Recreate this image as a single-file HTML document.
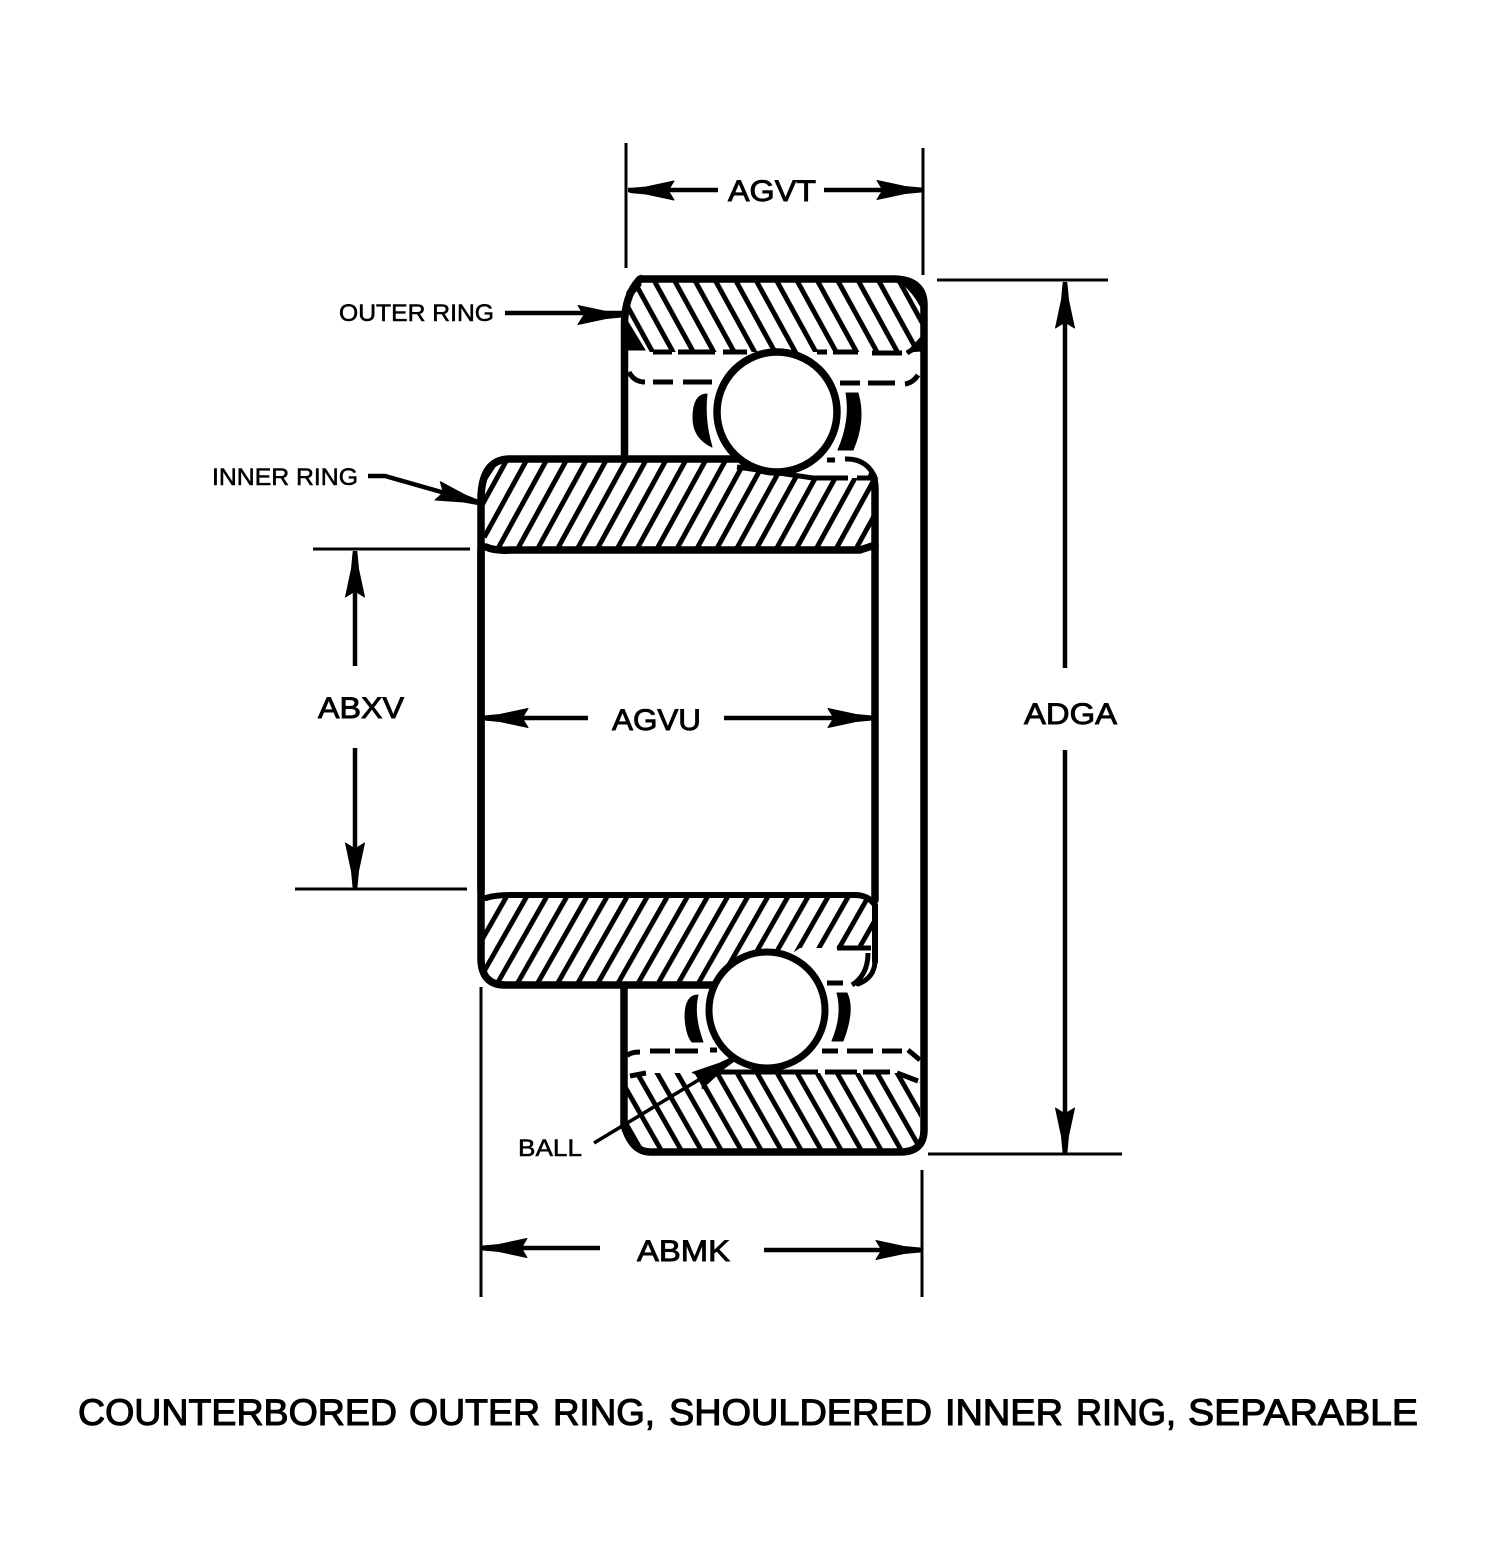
<!DOCTYPE html>
<html><head><meta charset="utf-8"><style>
html,body{margin:0;padding:0;background:#fff}
svg{display:block}
text{font-family:"Liberation Sans",sans-serif;fill:#000;stroke:#000}
.b{font-size:30px;stroke-width:.9px}
.s{font-size:24px;stroke-width:.55px}
.t{font-size:37px;stroke-width:1.1px}
.o{fill:none;stroke:#000;stroke-width:7.5;stroke-linejoin:round;stroke-linecap:round}
.d{fill:none;stroke:#000;stroke-width:3}
.l{fill:none;stroke:#000;stroke-width:4.5}
</style></head><body>
<svg width="1495" height="1543" viewBox="0 0 1495 1543" xmlns="http://www.w3.org/2000/svg">
<defs>
<pattern id="pb" width="20.4" height="200" patternUnits="userSpaceOnUse" patternTransform="translate(7.5 0) skewX(28.8)"><rect width="20.4" height="200" fill="#fff"/><rect x="0" width="5.600" height="200" fill="#000"/></pattern>
<pattern id="pf" width="19.9" height="200" patternUnits="userSpaceOnUse" patternTransform="translate(0.7 0) skewX(-28.8)"><rect width="19.9" height="200" fill="#fff"/><rect x="0" width="5.600" height="200" fill="#000"/></pattern>
<pattern id="pf2" width="20.1" height="200" patternUnits="userSpaceOnUse" patternTransform="translate(10.2 0) skewX(-29.7)"><rect width="20.1" height="200" fill="#fff"/><rect x="0" width="5.600" height="200" fill="#000"/></pattern>
<pattern id="pb2" width="20" height="200" patternUnits="userSpaceOnUse" patternTransform="translate(2.3 0) skewX(29.7)"><rect width="20" height="200" fill="#fff"/><rect x="0" width="5.600" height="200" fill="#000"/></pattern>
<path id="ah" d="M0 -2L-16 -3.5L-44 -9.5L-40 -3L-38 0L-40 3L-44 9.5L-16 3.5L0 2Z" fill="#000" stroke="#000" stroke-width="1" stroke-linejoin="round"/>
</defs>
<rect width="1495" height="1543" fill="#fff"/>

<!-- hatched bodies -->
<path d="M640 278H900Q924 280 924 300V335L906 352H645L627 320V295Z" fill="url(#pb)"/>
<path d="M484 475Q486 460 505 459H740L770 475L815 478H862Q875 480 875 490V528L860 549H498L482 535Z" fill="url(#pf)"/>
<path d="M484 915Q486 896 505 896H855Q872 898 873 915V930L862 948H800L745 985H500L482 970Z" fill="url(#pf2)"/>
<path d="M627 1085L640 1073H900L920 1082V1130Q922 1150 905 1152H645Q628 1150 624 1130Z" fill="url(#pb2)"/>

<!-- black corners -->
<path d="M900 279Q924 280 926 300V318Q918 295 900 281Z" fill="#000" stroke="#000" stroke-width="2"/>
<path d="M640 278L628 292L627 300L640 285Z" fill="#000" stroke="#000" stroke-width="3"/>
<path d="M628 322L628 350L645 350Z" fill="#000" stroke="#000" stroke-width="1"/>
<path d="M922 336L921 351L907 352Z" fill="#000" stroke="#000" stroke-width="1"/>
<path d="M486 470Q490 462 500 460L487 480Z" fill="#000"/>

<!-- outer ring outline -->
<path class="o" d="M624.500 458V325Q624.500 295 640 279H895Q924 280 924 305V1130Q924 1152 900 1152H650Q632 1152 624 1125V988"/>
<!-- inner ring outlines -->
<path class="o" d="M481 890V500Q481 459 510 459H745"/>
<path class="o" d="M486 547Q495 551 510 550H860L875 545"/>
<path class="o" d="M875 900V490Q875 480 872 475"/>
<path class="o" d="M481 550V960Q482 985 505 985H715"/>
<path class="o" style="stroke-width:6" d="M486 898Q495 895 510 895H855Q868 895 875 905V962"/>
<path class="o" d="M875 962Q874 978 858 984" style="stroke-width:5"/>

<!-- races -->
<g fill="none" stroke="#000" stroke-width="5">
<path d="M653 352H672M678 352H715M723 352H747M817 352H827M833 352H858M872 353H902M907 353L920 345"/>
<path d="M629 372Q634 382 645 382M653 382H673M683 382H712M840 383H860M868 383H895M905 384Q913 383 918 375"/>
<path d="M827 460H835M845 459Q868 458 876 480M813 478H848M857 478H870"/>
<path d="M627 1056Q630 1052 640 1052M650 1051H670M675 1051H698M710 1050H717M822 1051H838M847 1051H873M882 1051H902M908 1050L920 1060"/>
<path d="M630 1076L646 1073M717 1072H800M800 1072H818M825 1072H857M863 1072H890M897 1073L918 1081"/>
<path d="M837 948H871M827 983H843M868 953Q868 975 852 985"/>
<path d="M737 467L813 478"/>
</g>

<!-- cage -->
<g fill="#000" stroke="#000" stroke-width="1" stroke-linejoin="round">
<path d="M707 394Q693 394 693 418Q693 438 712 447Q704 420 707 394Z"/>
<path d="M846 393H858Q866 420 853 450H838Q851 420 846 393Z"/>
<path d="M698 995Q685 995 685 1017Q686 1035 692 1042H703Q693 1015 698 995Z"/>
<path d="M837 993H847Q855 1010 843 1041H832Q843 1015 837 993Z"/>
</g>

<!-- balls -->
<circle cx="777" cy="412" r="60" fill="#fff" stroke="#000" stroke-width="7.5"/>
<circle cx="767" cy="1010" r="58" fill="#fff" stroke="#000" stroke-width="7"/>

<!-- extension lines -->
<g class="d">
<path d="M626 143V268M923 148V275"/>
<path d="M937 280H1108M928 1154H1122"/>
<path d="M313 549H470M295 889H467"/>
<path d="M481 987V1297M922 1170V1297"/>
</g>
<!-- dimension lines -->
<g class="l">
<path d="M628 190H718M824 190H921"/>
<path d="M1065 282V668M1065 750V1152"/>
<path d="M355 551V666M355 748V887"/>
<path d="M484 718H588M724 718H872"/>
<path d="M483 1248H600M764 1250H920"/>
<path d="M505 313H622"/>
<path d="M368 476H385L480 503"/>
</g>
<path d="M594 1143L735 1058" fill="none" stroke="#000" stroke-width="3.5"/>

<!-- arrowheads -->
<use href="#ah" transform="translate(630 190.500) rotate(180)"/>
<use href="#ah" transform="translate(921 190)"/>
<use href="#ah" transform="translate(1065 284) rotate(-90)"/>
<use href="#ah" transform="translate(1065 1152) rotate(90)"/>
<use href="#ah" transform="translate(355 553) rotate(-90)"/>
<use href="#ah" transform="translate(355 887) rotate(90)"/>
<use href="#ah" transform="translate(484 718) rotate(180)"/>
<use href="#ah" transform="translate(872 718)"/>
<use href="#ah" transform="translate(483 1248) rotate(180)"/>
<use href="#ah" transform="translate(920 1250)"/>
<use href="#ah" transform="translate(622 315)"/>
<use href="#ah" transform="translate(480 503) rotate(16)"/>
<use href="#ah" transform="translate(735 1058) rotate(-31)"/>

<!-- labels -->
<text class="b" x="728" y="201" textLength="88" lengthAdjust="spacingAndGlyphs">AGVT</text>
<text class="b" x="318" y="718" textLength="86" lengthAdjust="spacingAndGlyphs">ABXV</text>
<text class="b" x="612" y="730" textLength="89" lengthAdjust="spacingAndGlyphs">AGVU</text>
<text class="b" x="1024" y="724" textLength="93" lengthAdjust="spacingAndGlyphs">ADGA</text>
<text class="b" x="637" y="1261" textLength="93" lengthAdjust="spacingAndGlyphs">ABMK</text>
<text class="s" x="339" y="321" textLength="155" lengthAdjust="spacingAndGlyphs">OUTER RING</text>
<text class="s" x="212" y="485" textLength="146" lengthAdjust="spacingAndGlyphs">INNER RING</text>
<text class="s" x="518" y="1156" textLength="64" lengthAdjust="spacingAndGlyphs">BALL</text>
<text class="t" x="78" y="1425" textLength="319" lengthAdjust="spacingAndGlyphs">COUNTERBORED</text>
<text class="t" x="409" y="1425" textLength="131" lengthAdjust="spacingAndGlyphs">OUTER</text>
<text class="t" x="553" y="1425" textLength="102" lengthAdjust="spacingAndGlyphs">RING,</text>
<text class="t" x="669" y="1425" textLength="263" lengthAdjust="spacingAndGlyphs">SHOULDERED</text>
<text class="t" x="945" y="1425" textLength="118" lengthAdjust="spacingAndGlyphs">INNER</text>
<text class="t" x="1076" y="1425" textLength="100" lengthAdjust="spacingAndGlyphs">RING,</text>
<text class="t" x="1188" y="1425" textLength="230" lengthAdjust="spacingAndGlyphs">SEPARABLE</text>
</svg>
</body></html>
